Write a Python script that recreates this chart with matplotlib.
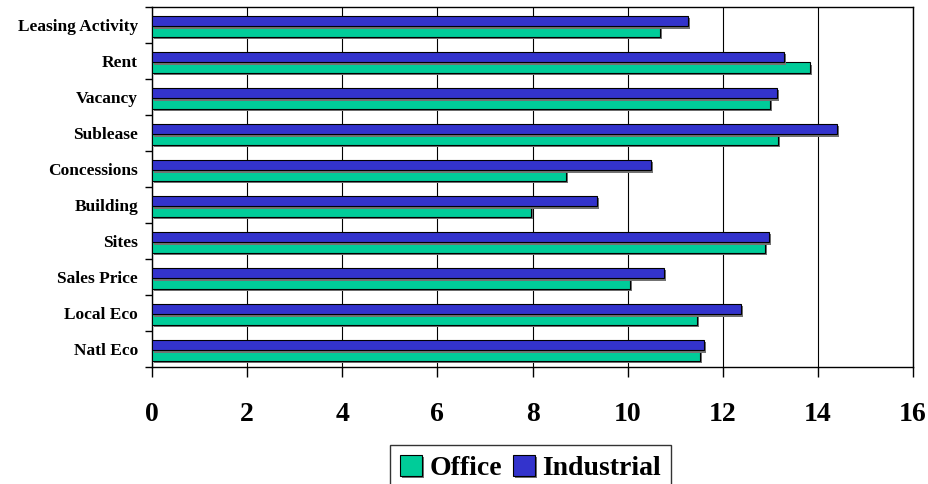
import numpy as np
import matplotlib.pyplot as plt
import matplotlib.patheffects as pe

# Survey categories, bottom to top as drawn
categories = ['Natl Eco', 'Local Eco', 'Sales Price', 'Sites', 'Building',
              'Concessions', 'Sublease', 'Vacancy', 'Rent', 'Leasing Activity']
office = [11.53, 11.45, 10.05, 12.89, 7.96, 8.70, 13.17, 12.99, 13.84, 10.67]
industrial = [11.61, 12.38, 10.77, 12.97, 9.36, 10.50, 14.41, 13.13, 13.28, 11.26]
xticks = [0, 2, 4, 6, 8, 10, 12, 14, 16]

office_color = '#00CC99'
industrial_color = '#3333CC'

plt.rcParams['font.family'] = ['Liberation Serif', 'DejaVu Serif']
plt.rcParams['font.weight'] = 'bold'

fig = plt.figure(figsize=(9.29, 4.84), dpi=100)
ax = fig.add_axes([0.1636, 0.2417, 0.8192, 0.7438])

y = np.arange(len(categories)) + 0.5
h = 0.29
shadow = [pe.SimplePatchShadow(offset=(1.5, -1.5), shadow_rgbFace='0.45', alpha=1.0), pe.Normal()]

b1 = ax.barh(y - h / 2 - 0.04, office, height=h, color=office_color,
             edgecolor='black', linewidth=0.8, label='Office', zorder=3)
b2 = ax.barh(y + h / 2 - 0.04, industrial, height=h, color=industrial_color,
             edgecolor='black', linewidth=0.8, label='Industrial', zorder=3)
for bar in list(b1) + list(b2):
    bar.set_path_effects(shadow)

ax.set_xlim(0, 16)
ax.set_ylim(0, len(categories))
ax.set_xticks(xticks)
ax.set_xticklabels([str(t) for t in xticks], fontsize=20, fontweight='bold')
ax.tick_params(axis='x', direction='out', length=7, width=1, pad=18)

# category boundaries get the tick marks, names sit at the centres
ax.set_yticks(np.arange(len(categories) + 1))
ax.set_yticklabels([])
ax.set_yticks(y, minor=True)
ax.set_yticklabels(categories, minor=True, fontsize=12.5, fontweight='bold')
ax.tick_params(axis='y', which='major', direction='out', length=5, width=1)
ax.tick_params(axis='y', which='minor', length=0, pad=10)

ax.grid(axis='x', color='black', linewidth=0.8, zorder=0)
ax.set_axisbelow(True)
for s in ax.spines.values():
    s.set_color('black')
    s.set_linewidth(1)

leg = fig.legend(handles=[b1, b2], labels=['Office', 'Industrial'], loc='upper center',
                 bbox_to_anchor=(0.571, 0.081), ncol=2, fancybox=False, frameon=True,
                 edgecolor='black', prop={'size': 20, 'weight': 'bold'},
                 handlelength=0.8, handleheight=0.8, handletextpad=0.25,
                 columnspacing=0.4, borderpad=0.35, borderaxespad=0)
leg.get_frame().set_linewidth(1)
leg._legend_box.sep = 2

fig.savefig('out.png', dpi=100)
